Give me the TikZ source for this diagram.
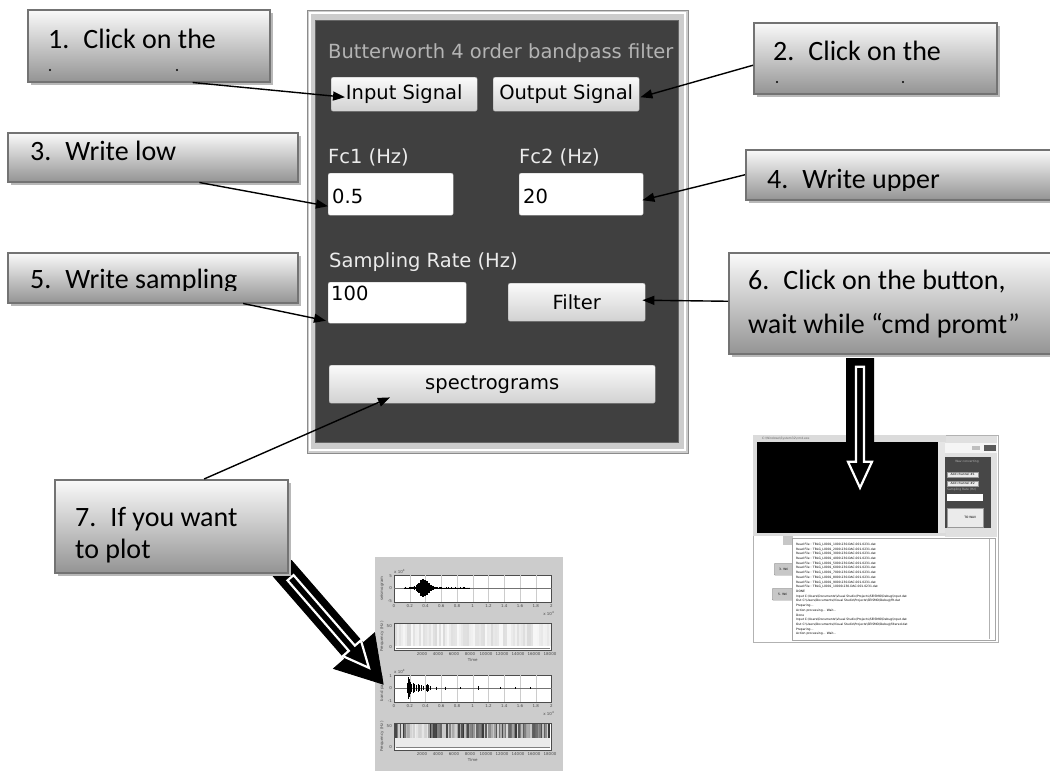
\documentclass[tikz,border=0pt]{standalone}
\usepackage{fontspec}
\setmainfont{Carlito}
\newfontfamily\guifont{DejaVu Sans}
\usetikzlibrary{arrows.meta, positioning, calc, shadows}

\definecolor{panelgray}{HTML}{404040}
\definecolor{titlegray}{HTML}{B4B4B4}

\pgfdeclarelayer{shots}
\pgfdeclarelayer{bigarrows}
\pgfsetlayers{shots,bigarrows,main}

% fat arrow shape from #2 to #3 (shaft, head, head length)
\newcommand{\hollowarrow}[6]{%
  \filldraw[#1] let \p1=(#2), \p2=(#3), \n1={atan2(\y2-\y1,\x2-\x1)} in
    ($(\p1)+(\n1+90:#4)$) -- ($(\p2)+(\n1+180:#6)+(\n1+90:#4)$)
    -- ($(\p2)+(\n1+180:#6)+(\n1+90:#5)$) -- (\p2)
    -- ($(\p2)+(\n1+180:#6)+(\n1-90:#5)$)
    -- ($(\p2)+(\n1+180:#6)+(\n1-90:#4)$)
    -- ($(\p1)+(\n1-90:#4)$) -- cycle;}

\begin{document}
\begin{tikzpicture}[x=1pt, y=-1pt, >={Triangle[length=12pt,width=9pt]},
    callbox/.style={draw=black!55, line width=1.5pt, top color=black!2, bottom color=black!42,
      drop shadow={fill=black!28, opacity=1, shadow xshift=3pt, shadow yshift=-3pt},
      anchor=north west, inner sep=0pt},
    calltext/.style={font=\fontsize{28}{32}\selectfont, anchor=base west, inner sep=0pt},
    pointer/.style={->, line width=1.4pt},
    guifnt/.style={font=\guifont\fontsize{19.5}{22}\selectfont},
    guibtn/.style={guifnt, draw=black!35, rounded corners=2pt, top color=black!2, bottom color=black!18,
      anchor=north west, inner sep=0pt},
    guibox/.style={fill=white, draw=black!25, rounded corners=2pt, anchor=north west, inner sep=0pt},
    guilabel/.style={guifnt, text=black!8, anchor=base west, inner sep=0pt},
    guival/.style={guifnt, anchor=base west, inner sep=0pt},
    ticklbl/.style={font=\guifont\fontsize{4}{5}\selectfont, text=black!70, inner sep=0pt},
    logline/.style={font=\guifont\fontsize{3}{3.5}\selectfont, inner sep=0pt},
    minibtn/.style={fill=black!8, draw=black!40, anchor=north west, inner sep=0pt, logline},
    plotbox/.style={draw=black!70, line width=0.5pt, fill=white, minimum width=157, minimum height=26.5,
      anchor=north west, inner sep=0pt}]

  \useasboundingbox (0,0) rectangle (1050,772);

  % filter panel
  \node[fill=black!20, draw=black!45, line width=1pt, minimum width=381, minimum height=443,
    anchor=north west, inner sep=0pt] (frame) at (307,10) {};
  \draw[white, line width=1.2pt] (310,13) rectangle (685,450);
  \node[fill=panelgray, draw=black!60, minimum width=363, minimum height=422,
    anchor=north west, inner sep=0pt] (panel) at (315,20) {};

  \node[guifnt, text=titlegray, anchor=base west, inner sep=0pt] (title) at (328,58)
    {Butterworth 4 order bandpass filter};
  \node[guibtn, minimum width=146, minimum height=34] (inbtn) at (331,77) {Input Signal};
  \node[guibtn, minimum width=146, minimum height=34] (outbtn) at (493,77) {Output Signal};
  \node[guilabel] (fc1lbl) at (328,163) {Fc1 (Hz)};
  \node[guilabel] (fc2lbl) at (519,163) {Fc2 (Hz)};
  \node[guibox, minimum width=125, minimum height=42] (fc1box) at (328,173) {};
  \node[guibox, minimum width=124, minimum height=42] (fc2box) at (519,173) {};
  \node[guival] (fc1val) at (332,203) {0.5};
  \node[guival] (fc2val) at (523,203) {20};
  \node[guilabel] (ratelbl) at (329,267) {Sampling Rate (Hz)};
  \node[guibox, minimum width=138, minimum height=41] (ratebox) at (328,282) {};
  \node[guival] (rateval) at (331,300) {100};
  \node[guibtn, minimum width=137, minimum height=38] (filterbtn) at (508,283) {Filter};
  \node[guibtn, minimum width=326, minimum height=38] (specbtn) at (329,365) {spectrograms};

  % callouts
  \node[callbox, minimum width=242, minimum height=72] (c1) at (27,9) {};
  \node[calltext] at (48,48) {1.\hspace{14pt}Click on the};
  \fill (50,70) circle (1.2pt) (177,70) circle (1.2pt);

  \node[callbox, minimum width=243, minimum height=71] (c2) at (753,22) {};
  \node[calltext] at (773,60) {2.\hspace{14pt}Click on the};
  \fill (777,82) circle (1.2pt) (903,82) circle (1.2pt);

  \node[callbox, minimum width=290, minimum height=49] (c3) at (7,132) {};
  \node[calltext] at (30,160) {3.\hspace{14pt}Write low};

  \node[callbox, minimum width=310, minimum height=50] (c4) at (745,149) {};
  \begin{scope}
    \clip (745,149) rectangle (1055,190);
    \node[calltext] at (767,188) {4.\hspace{14pt}Write upper};
  \end{scope}

  \node[callbox, minimum width=290, minimum height=50] (c5) at (7,252) {};
  \begin{scope}
    \clip (7,252) rectangle (297,290);
    \node[calltext] at (30,288) {5.\hspace{14pt}Write sampling};
  \end{scope}

  \node[callbox, minimum width=327, minimum height=101] (c6) at (728,252) {};
  \node[calltext] at (748,289) {6.\hspace{14pt}Click on the button,};
  \node[calltext] at (748,333) {wait while “cmd promt”};

  \node[callbox, minimum width=233, minimum height=93] (c7) at (54,479) {};
  \node[calltext] at (75,526) {7.\hspace{14pt}If you want};
  \node[calltext] at (75,558) {to plot};

  % pointers
  \draw[pointer] ($(c1.south west)!0.68!(c1.south east)$) -- ($(inbtn.west)+(14,3)$);
  \draw[pointer] ($(c2.west)+(0,7)$) -- ($(outbtn.east)+(1,3)$);
  \draw[pointer] ($(c3.south west)!0.66!(c3.south east)$) -- ($(fc1box.west)+(0,12)$);
  \draw[pointer] (c4.west) -- ($(fc2box.east)+(-1,6)$);
  \draw[pointer] ($(c5.south west)!0.81!(c5.south east)$) -- ($(ratebox.west)+(-2,18)$);
  \draw[pointer] ($(c6.west)+(0,-2)$) -- ($(filterbtn.east)+(-3,-2)$);
  \draw[pointer] ($(c7.north west)!0.64!(c7.north east)$) -- ($(specbtn.south west)+(61,-6)$);

  % screenshots
  \begin{pgfonlayer}{shots}
    % cmd window over the converter
    \node[fill=white, draw=black!30, minimum width=245, minimum height=207,
      anchor=north west, inner sep=0pt] (shot) at (753,435) {};
    \fill[black!12] (945,436) rectangle (997,537);
    \fill[black!4] (945,443) rectangle (997,453);
    \fill[black!65] (984,445) rectangle (996,451);
    \fill[black!25] (972,446) rectangle (980,450);
    \node[fill=black!72, minimum width=46, minimum height=71, anchor=north west, inner sep=0pt]
      (wavpanel) at (945,457) {};
    \node[logline, text=black!30] at (967,462) {Wav converting};
    \node[minibtn, minimum width=31, minimum height=5] at (947,472) {Add channel \#1};
    \node[minibtn, minimum width=31, minimum height=5] at (947,481) {Add channel \#2};
    \node[logline, text=black!30, anchor=west] at (947,490) {Sampling Rate (Hz)};
    \fill[white] (947,494) rectangle (983,501);
    \node[minibtn, minimum width=36, minimum height=19] (wavbtn) at (947,508) {\hspace{10pt}TO WAV};

    \fill[black!14] (753,435) rectangle (946,442);
    \fill[black!14] (753,442) rectangle (757,536);
    \fill[black!14] (753,533) rectangle (946,536);
    \node[logline, text=black!60, anchor=west] at (762,438.5)
      {C:\textbackslash Windows\textbackslash System32\textbackslash cmd.exe};
    \node[fill=black, minimum width=181, minimum height=91, anchor=north west, inner sep=0pt]
      (cmdwin) at (757,442) {};
    \fill[black!10] (938,442) rectangle (945,533);

    \fill[black!22] (783,536) rectangle (793,545);
    \node[minibtn, fill=black!22, rounded corners=1pt, minimum width=19, minimum height=12] at (774,563) {3. Wri};
    \node[minibtn, fill=black!22, rounded corners=1pt, minimum width=21, minimum height=12] at (772,588) {5. Wri};
    \node[fill=white, draw=black!35, minimum width=203, minimum height=102, anchor=north west,
      inner sep=0pt] (logbox) at (792,538) {};
    \draw[black!30] (989,539) -- (989,639);
    \foreach \k in {1,...,10}
      \node[logline, anchor=west] at (796,{540+4.7*\k}) {Read File : TBLG\_L0001\_\k 000.230.DAC.001.0231.dat};
    \foreach \txt [count=\i from 11] in {DONE,
        Input C:\textbackslash Users\textbackslash Documents\textbackslash Visual Studio\textbackslash Projects\textbackslash SEISMO\textbackslash Debug\textbackslash input.dat,
        Out C:\textbackslash Users\textbackslash Documents\textbackslash Visual Studio\textbackslash Projects\textbackslash SEISMO\textbackslash Debug\textbackslash fft.dat,
        Preparing{.}{.}{.},
        Action processing{.}{.}{.} Wait{.}{.}{.},
        Done,
        Input C:\textbackslash Users\textbackslash Documents\textbackslash Visual Studio\textbackslash Projects\textbackslash SEISMO\textbackslash Debug\textbackslash input.dat,
        Out C:\textbackslash Users\textbackslash Documents\textbackslash Visual Studio\textbackslash Projects\textbackslash SEISMO\textbackslash Debug\textbackslash filtered.dat,
        Preparing{.}{.}{.},
        Action processing{.}{.}{.} Wait{.}{.}{.}}
      \node[logline, anchor=west] at (796,{540+4.7*\i}) {\txt};

    % spectrogram figure
    \node[fill=black!20, minimum width=188, minimum height=214, anchor=north west, inner sep=0pt]
      (specbg) at (375,557) {};
    \foreach \n/\yy in {1/575, 2/623, 3/675, 4/723}
      \node[plotbox] (plot\n) at (394,\yy) {};
    \foreach \p in {1,3} {
      \foreach \k in {1,...,9}
        \draw[black!20, line width=0.3pt] ($(plot\p.north west)!{\k/10}!(plot\p.north east)$)
          -- ($(plot\p.south west)!{\k/10}!(plot\p.south east)$);
      \draw[black!55, line width=0.4pt] (plot\p.west) -- (plot\p.east);
    }
    \pgfmathsetseed{3}
    \foreach \x in {404,404.7,...,470} {
      \pgfmathsetmacro\amp{(0.6+9*exp(max(-((\x-424)/7)^2,-8)))*(0.45+0.55*rnd)}
      \draw[line width=0.7pt] (\x,{588-\amp}) -- (\x,{588+\amp});
    }
    \foreach \x/\a in {407/5, 408/11, 409/9, 410/6, 411/4, 413/5, 414/4, 416/3, 418/4, 419/3,
        421/3, 423/2, 426/3, 427/4, 428/3, 430/2, 436/1.5, 445/1.5, 460/1, 478/2, 500/1.2, 515/1, 530/1}
      \draw[line width=0.7pt] (\x,{688-\a}) -- (\x,{688+\a});
    \foreach \x in {395,397,...,549} {
      \pgfmathsetmacro\g{int(3+12*rnd)}
      \fill[black!\g] (\x,624) rectangle ++(2,22);
    }
    \draw[black!50, line width=0.4pt] (396,648) -- (550,648);
    \foreach \x in {395,396.5,...,549} {
      \pgfmathsetmacro\g{(\x>409 && \x<428) ? int(5+15*rnd) : int(15+65*rnd)}
      \fill[black!\g] (\x,724) rectangle ++(1.5,14);
    }
    \fill[black!8] (395,738) rectangle (550,748);
    \draw[black!50, line width=0.4pt] (396,747) -- (550,747);

    \foreach \p in {1,3}
      \foreach \t [count=\i] in {0,0.2,0.4,0.6,0.8,1,1.2,1.4,1.6,1.8,2}
        \node[ticklbl, anchor=north] at ($(plot\p.south west)!{(\i-1)/10}!(plot\p.south east)+(0,2)$) {\t};
    \foreach \p in {2,4} {
      \foreach \t [count=\i] in {2000,4000,6000,8000,10000,12000,14000,16000,18000}
        \node[ticklbl, anchor=north] at ($(plot\p.south west)+({28+16*(\i-1)},2)$) {\t};
      \node[ticklbl, anchor=north] at ($(plot\p.south)+(0,8)$) {Time};
      \node[ticklbl, anchor=east] at ($(plot\p.north west)+(-2,3)$) {50};
      \node[ticklbl, anchor=east] at ($(plot\p.south west)+(-2,-3)$) {0};
    }
    \foreach \p/\hi/\lo in {1/5/-5, 3/1/-1} {
      \node[ticklbl, anchor=east] at ($(plot\p.north west)+(-2,1)$) {\hi};
      \node[ticklbl, anchor=east] at ($(plot\p.west)+(-2,0)$) {0};
      \node[ticklbl, anchor=east] at ($(plot\p.south west)+(-2,-1)$) {\lo};
      \node[ticklbl, anchor=south west] at ($(plot\p.north west)+(0,-1)$) {x 10\textsuperscript{4}};
      \node[ticklbl, anchor=north east] at ($(plot\p.south east)+(3,9)$) {x 10\textsuperscript{4}};
    }
    \foreach \p/\lab in {1/seismogram, 2/{Frequency (Hz)}, 3/band passed, 4/{Frequency (Hz)}}
      \node[ticklbl, rotate=90] at ($(plot\p.west)+(-12,0)$) {\lab};
  \end{pgfonlayer}

  % big arrows
  \coordinate (a6s) at ($(c6.south west)+(132,4)$);
  \coordinate (a6t) at ($(cmdwin.north west)+(103,54)$);
  \coordinate (a7s) at ($(c7.south east)+(-6,-5)$);
  \coordinate (a7t) at ($(specbg.north west)+(8,127)$);
  \begin{pgfonlayer}{bigarrows}
    \hollowarrow{black, line width=1pt}{a6s}{a6t}{13.5pt}{27pt}{40pt}
    \hollowarrow{fill=black, draw=white, line width=2.2pt}{$(a6s)!0.06!(a6t)$}{$(a6s)!0.94!(a6t)$}{4pt}{12pt}{26pt}
    \hollowarrow{black, line width=1pt}{a7s}{a7t}{12pt}{27pt}{44pt}
    \hollowarrow{fill=black, draw=white, line width=2.2pt}{$(a7s)!0.08!(a7t)$}{$(a7s)!0.86!(a7t)$}{4pt}{12pt}{26pt}
  \end{pgfonlayer}
\end{tikzpicture}
\end{document}
